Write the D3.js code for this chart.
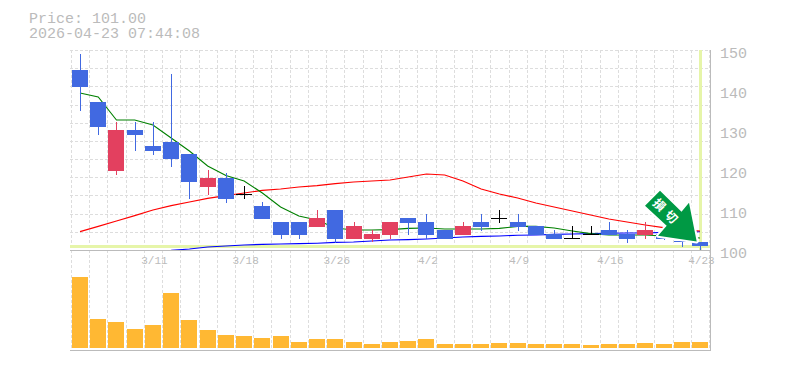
<!DOCTYPE html>
<html><head><meta charset="utf-8">
<script src="https://cdn.jsdelivr.net/npm/d3@7"></script>
<style>
html,body{margin:0;padding:0;background:#fff}
svg{display:block}
text{font-family:"Liberation Mono",monospace;fill:#bbb}
</style></head><body>
<div id="chart"></div>
<script>
const titleLines = ["Price: 101.00", "2026-04-23 07:44:08"];
const xTickIndex = [4, 9, 14, 19, 24, 29, 34];
const xTickLabels = ["3/11", "3/18", "3/26", "4/2", "4/9", "4/16", "4/23"];
const yTicks = [100, 110, 120, 130, 140, 150];
const lastPrice = 101;
const arrowLabel = "損切";

const opens  = [145,137,119.75,130,126,127,124,115.75,118,114,111,107,107,105.75,110,102.75,102.75,103.75,108,107,105,103.75,107,108,107,106,104,103,104,105,104,103.75,104,102.25,102];
const closes = [140.75,130.75,130,128.75,124.75,122.75,117,118,112.75,114,107.75,103.75,103.75,108,102.75,106,104,107,106.75,103.75,102.75,106,105.75,108,105.75,103.75,102.75,103,104,103.75,102.75,105,102.75,102,101];
const highs  = [149,137,132,132,132,144,124,120,119.25,116,112,107,107,110,110,107,105,107,108,109,105,107,109,110,109,106,105,106,106,107,105,107,104,102.25,102];
const lows   = [134.75,128.75,118.75,124.75,123.75,120.75,112.75,113.75,111.75,112.75,107.75,102.75,102.75,105.75,101.75,102.75,102,102.75,103.75,102.75,102.75,103.75,104.75,106.75,104.75,103.75,102.75,103,104,103.75,101.75,102.75,102.5,100.75,99.75];
const volumes = [71,29,26,19,23,55,28,18,13,12,10,12,6,9,9,6,4,6,7,9,4,4,4,5,5,4,4,4,3,4,4,5,4,6,6];
const maShort = [139.25,138.25,132.5,132.5,131.25,128,124.75,121,118.6,117.25,114.25,110.75,108.5,107.5,105.5,105,105,105.1,105.4,105.5,105.25,105.25,105.25,105.4,105.9,105.9,105.5,104.75,104.1,103.75,103.75,103.75,103.5,103.25,103];
const maMid = [104.6,105.9,107.25,108.6,110,111.1,112,112.9,113.6,114.25,114.9,115.25,115.75,116.1,116.6,117,117.25,117.5,118.25,119,118.75,117.25,115.25,114,113,111.75,110.75,109.75,108.75,107.75,107,106.25,105.6,105.1,104.75];
const maLong = [null,null,null,null,null,99.9,100.25,100.75,101,101.25,101.4,101.5,101.6,101.7,101.9,102,102.25,102.5,102.6,102.75,103,103.25,103.4,103.5,103.7,103.75,103.9,104,104.1,104.2,104.25,104.25,104.4,104.5,104.55];

const width = 785, height = 370;
const svg = d3.select("#chart").append("svg").attr("width", width).attr("height", height);

const idx = opens.map((_, i) => i);
const x = d3.scaleLinear().domain([0, 34]).range([80, 700]);
const y = d3.scaleLinear().domain([100, 150]).range([250, 50]);
const vol = d3.scaleLinear().domain([0, 71]).range([348, 277]);
const left = 70, right = 710, volBottom = 350;
const up = "#e3405f", down = "#4169e1", doji = "#000";
const barW = 16;

// grid
const grid = svg.append("g").attr("stroke", "#ddd").attr("stroke-dasharray", "3 2").attr("fill", "none");
d3.range(0, 36).forEach(i => {
  const gx = Math.round(x(i - 0.5)) + 0.5;
  grid.append("line").attr("x1", gx).attr("x2", gx).attr("y1", 50).attr("y2", volBottom);
});
d3.range(0, 12).forEach(i => {
  const gy = Math.round(50 + i * 200 / 11) + 0.5;
  grid.append("line").attr("x1", left).attr("x2", right).attr("y1", gy).attr("y2", gy);
});

// current price / date markers
svg.append("rect").attr("x", left).attr("width", right - left).attr("y", y(lastPrice) - 1).attr("height", 3).attr("fill", "#e6f5a9");
svg.append("rect").attr("x", x(34) - 1).attr("width", 3).attr("y", 50).attr("height", 200).attr("fill", "#e6f5a9");

// moving averages
const line = d3.line().defined(d => d != null).x((d, i) => x(i)).y(d => y(d));
[[maLong, "#0000ff"], [maMid, "#ff0000"], [maShort, "#008000"]].forEach(([s, c]) => {
  svg.append("path").attr("d", line(s)).attr("fill", "none").attr("stroke", c).attr("stroke-width", 1.1);
});

// candles
const col = i => closes[i] > opens[i] ? up : closes[i] < opens[i] ? down : doji;
svg.append("g").selectAll("rect").data(idx).join("rect")
  .attr("x", i => Math.round(x(i))).attr("width", 1)
  .attr("y", i => y(highs[i])).attr("height", i => y(lows[i]) - y(highs[i]))
  .attr("fill", col).attr("shape-rendering", "crispEdges");
svg.append("g").selectAll("rect").data(idx).join("rect")
  .attr("x", i => Math.round(x(i)) - barW / 2).attr("width", barW)
  .attr("y", i => y(Math.max(opens[i], closes[i])))
  .attr("height", i => Math.max(1, Math.abs(y(opens[i]) - y(closes[i]))))
  .attr("fill", col).attr("shape-rendering", "crispEdges");

// volume
svg.append("g").selectAll("rect").data(idx).join("rect")
  .attr("x", i => Math.round(x(i)) - barW / 2).attr("width", barW)
  .attr("y", i => vol(volumes[i])).attr("height", i => vol(0) - vol(volumes[i]))
  .attr("fill", "#ffb833").attr("shape-rendering", "crispEdges");

// frame lines
const frame = svg.append("g").attr("stroke", "#bbb").attr("shape-rendering", "crispEdges");
frame.append("line").attr("x1", left).attr("x2", right + 1).attr("y1", 250.5).attr("y2", 250.5);
frame.append("line").attr("x1", left).attr("x2", right + 1).attr("y1", volBottom + .5).attr("y2", volBottom + .5);
frame.append("line").attr("x1", right + .5).attr("x2", right + .5).attr("y1", 50).attr("y2", volBottom);

// axes
const yAxis = d3.axisRight(y).tickValues(yTicks).tickSize(0).tickPadding(10);
const gy = svg.append("g").attr("transform", `translate(${right},0)`).call(yAxis);
gy.select(".domain").remove();
gy.selectAll("text").attr("font-size", 15).attr("dy", "0.32em").style("font-family", '"Liberation Mono",monospace').style("fill", "#bbb").attr("transform", "translate(0,3)");

const xAxis = d3.axisBottom(x).tickValues(xTickIndex).tickSize(0).tickPadding(6).tickFormat((d, i) => xTickLabels[i]);
const gx = svg.append("g").attr("transform", "translate(1,250)").call(xAxis);
gx.select(".domain").remove();
gx.selectAll("text").attr("font-size", 11).style("font-family", '"Liberation Mono",monospace').style("fill", "#bbb");

// title
svg.selectAll("text.title").data(titleLines).join("text").attr("class", "title")
  .attr("x", 29).attr("y", (d, i) => 23 + i * 15).attr("font-size", 15).text(d => d);

// arrow, anchored to the last candle
const tipX = x(34) - 3.3, tipY = y(lastPrice) - 4.5;
const arrowPts = [[0,0],[-38.7,-5.7],[-30,-15.7],[-51.7,-35.7],[-36.7,-50.7],[-15.2,-29.7],[-7.7,-38.7]];
const arrowD = "M" + arrowPts.map(p => [tipX + p[0], tipY + p[1]].join(",")).join("L") + "Z";
svg.append("path").attr("d", arrowD).attr("fill", "#009944").attr("stroke", "#fff").attr("stroke-width", 4).attr("paint-order", "stroke").attr("stroke-linejoin", "round");
svg.append("text").attr("transform", `translate(${tipX - 29.7},${tipY - 28.7}) rotate(45)`)
  .attr("text-anchor", "middle").attr("dy", "0.36em").attr("font-size", 12).attr("font-weight", 700).attr("letter-spacing", 5)
  .style("font-family", '"Noto Sans CJK JP"').style("fill", "#fff").text(arrowLabel);
</script>
</body></html>
